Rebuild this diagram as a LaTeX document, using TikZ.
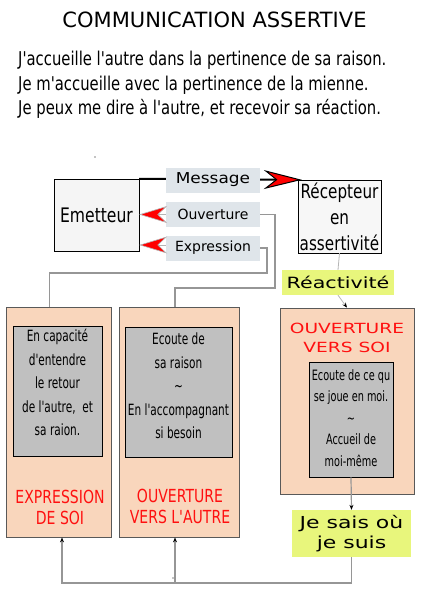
\documentclass[tikz,border=0pt]{standalone}
\usepackage{fontspec}
\setmainfont{DejaVu Sans}
\newfontfamily\narrowfont[FakeStretch=0.78]{DejaVu Sans}
\newfontfamily\slimfont[FakeStretch=0.68]{DejaVu Sans}
\newfontfamily\semiwidefont[FakeStretch=1.13]{DejaVu Sans}
\newfontfamily\widefont[FakeStretch=1.33]{DejaVu Sans}
\usetikzlibrary{arrows.meta,positioning}
\definecolor{paneorange}{RGB}{249,214,188}
\definecolor{innergray}{RGB}{192,192,192}
\definecolor{labelgray}{RGB}{223,229,234}
\definecolor{hintyellow}{RGB}{232,246,124}
\definecolor{textred}{RGB}{255,16,16}
\definecolor{wiregray}{RGB}{150,150,150}
\tikzset{
  lbl/.style={fill=labelgray,minimum width=94pt,minimum height=25pt,inner sep=0pt,
    font=\fontsize{14}{14}\selectfont},
  pane/.style={fill=paneorange,draw=black!65,line width=.8pt,inner sep=0pt},
  innerbox/.style={fill=innergray,draw=black,line width=.7pt,inner sep=0pt},
  innertext/.style={align=center,inner sep=0pt,font=\slimfont\fontsize{15.5}{23.5}\selectfont},
  redtext/.style={text=textred,align=center,inner sep=0pt,font=\narrowfont\fontsize{18}{21}\selectfont},
  hint/.style={fill=hintyellow,inner sep=0pt,align=center},
  wire/.style={draw=wiregray,line width=1.2pt},
  thinwire/.style={draw=wiregray!70,line width=.8pt},
  redtip/.style={-{Stealth[length=28pt,width=17pt,inset=9pt,fill=red,line width=.6pt]}},
  smalltip/.style={-{Stealth[length=5pt,width=4pt,black]}},
}

\begin{document}
\begin{tikzpicture}[x=1pt,y=-1pt]
  \useasboundingbox (0,0) rectangle (425,600);
  % heading
  \node[anchor=base,inner sep=0pt,font=\fontsize{21}{21}\selectfont] (title) at (214.5,27)
    {COMMUNICATION ASSERTIVE};
  \node[anchor=north west,align=left,inner sep=0pt,font=\narrowfont\fontsize{19}{24.5}\selectfont]
    (intro) at (18,51) {J'accueille l'autre dans la pertinence de sa raison.\\
    Je m'accueille avec la pertinence de la mienne.\\
    Je peux me dire à l'autre, et recevoir sa réaction.};
  \fill (95,157) circle (.7);

  % emitter and receiver
  \node[draw=black,fill=black!4,minimum width=85pt,minimum height=72pt,inner sep=0pt,
    font=\narrowfont\fontsize{20}{20}\selectfont] (emet) at (96.5,215) {Emetteur};
  \node[draw=black,fill=black!3,minimum width=83pt,minimum height=73pt,inner sep=0pt,align=center,
    font=\narrowfont\fontsize{19.5}{26}\selectfont] (recep) at (339.5,216.5)
    {Récepteur\\en\\assertivité};
  \draw[line width=2pt,-{Stealth[length=38pt,width=19pt,inset=12pt,fill=red,line width=1pt]}]
    (emet.north east) -- ([xshift=4pt]recep.north west);
  \node[lbl,font=\semiwidefont\fontsize{15}{15}\selectfont] (msg) at (213,180) {Message};
  \node[lbl] (ouv) at (213,214.5) {Ouverture};
  \node[lbl] (expr) at (213,248) {Expression};
  \coordinate (exprtail) at ([yshift=3pt]expr.west);
  \draw[thinwire,redtip] (ouv.west) -- (emet.east |- ouv.west);
  \draw[thinwire,redtip] (exprtail) -- (emet.east |- exprtail);

  % the three panes
  \node[pane,minimum width=105pt,minimum height=230pt] (lpane) at (58.5,422) {};
  \node[pane,minimum width=120pt,minimum height=230pt] (mpane) at (179,422) {};
  \node[pane,minimum width=134pt,minimum height=186pt] (rpane) at (347,401) {};
  \node[innerbox,minimum width=89pt,minimum height=130pt] (inL) at (57.5,391) {};
  \node[innerbox,minimum width=107pt,minimum height=130pt] (inM) at (178.5,392) {};
  \node[innerbox,minimum width=84pt,minimum height=115pt] (inR) at (351,419.5) {};
  \node[innertext] (txtL) at (57.5,382.5)
    {En capacité\\d'entendre\\le retour\\de l'autre,~ et\\sa raion.};
  \node[innertext] (txtM) at (178.5,386)
    {Ecoute de\\sa raison\\\textasciitilde\\En l'accompagnant\\si besoin};
  \node[innertext,font=\slimfont\fontsize{14.3}{21.5}\selectfont] (txtR) at (351,418)
    {Ecoute de ce qu\\se joue en moi.\\\textasciitilde\\Accueil de\\moi-même};
  \node[redtext] (nameL) at (60,507) {EXPRESSION\\DE SOI};
  \node[redtext] (nameM) at (180,506) {OUVERTURE\\VERS L'AUTRE};
  \node[redtext,font=\widefont\fontsize{14}{19}\selectfont] (nameR) at (347,338)
    {OUVERTURE\\VERS SOI};

  % feedback boxes
  \node[hint,minimum width=112pt,minimum height=25pt,font=\widefont\fontsize{15.5}{15.5}\selectfont]
    (react) at (338,282.5) {Réactivité};
  \node[hint,minimum width=119pt,minimum height=47pt,font=\widefont\fontsize{16.5}{20}\selectfont]
    (jsais) at (351.5,533.5) {Je sais où\\je suis};

  % connectors
  \coordinate (k1) at (275,288);
  \coordinate (k2) at (267,273);
  \coordinate (base) at (200,583);
  \draw[wire] (ouv.east) -| (k1) -| ([xshift=-4pt]mpane.north);
  \draw[wire] (expr.east) -| (k2) -| ([xshift=-9pt]lpane.north);
  \draw[thinwire] (recep.south) -- (react.north);
  \draw[thinwire,smalltip] (react.south) -- (rpane.north);
  \draw[wire,smalltip] (inR.south) -- (jsais.north);
  \draw[wire,smalltip] (jsais.south) |- ([xshift=3.5pt]lpane.south |- base) -- ([xshift=3.5pt]lpane.south);
  \draw[wire,smalltip] ([xshift=-4pt]mpane.south |- base) -- ([xshift=-4pt]mpane.south);
  \fill (173,578) circle (.7);
\end{tikzpicture}
\end{document}
